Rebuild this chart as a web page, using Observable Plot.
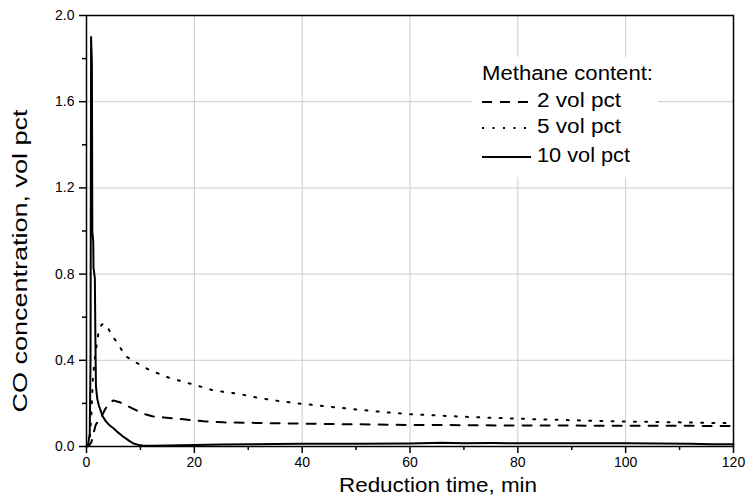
<!DOCTYPE html>
<html><head><meta charset="utf-8">
<script src="https://cdn.jsdelivr.net/npm/d3@7"></script>
<script src="https://cdn.jsdelivr.net/npm/@observablehq/plot@0.6"></script>
<style>
body{margin:0;background:#fff;font-family:"Liberation Sans",Arial,sans-serif}
#wrap{position:relative;width:748px;height:502px;background:#fff}
#legend{position:absolute;left:472px;top:57px;width:186px;height:120px;background:#fff}
</style></head><body><div id="wrap"><div id="legend"></div></div>
<script>
const legendTitle = "Methane content:";
const seriesNames = ["2 vol pct", "5 vol pct", "10 vol pct"];
const xLabel = "Reduction time, min";
const yLabel = "CO concentration, vol pct";

// 2 vol pct (dashed)
const t2 = [0, 0.5, 0.9, 1.2, 1.7, 2.2, 2.6, 3.0, 3.5, 4.0, 4.5, 5.0, 5.5, 6.2, 7.0, 8.5, 10.5, 12.2, 14.3, 18, 21.7, 25.4, 30, 35, 40, 50, 60, 70, 80, 90, 100, 110, 120];
const v2 = [0, 0.005, 0.02, 0.05, 0.1, 0.12, 0.13, 0.15, 0.175, 0.19, 0.205, 0.214, 0.21, 0.205, 0.195, 0.177, 0.153, 0.14, 0.135, 0.126, 0.117, 0.112, 0.11, 0.108, 0.106, 0.103, 0.1, 0.099, 0.097, 0.097, 0.096, 0.096, 0.095];
// 5 vol pct (dotted)
const t5 = [0, 0.4, 0.7, 0.9, 1.1, 1.2, 1.5, 2.0, 2.3, 2.8, 3.3, 4.0, 4.6, 6.0, 7.2, 9.2, 11.3, 13.2, 15.2, 19.5, 23.6, 28, 32, 36, 40, 45, 50, 55, 60, 70, 80, 90, 100, 110, 120];
const v5 = [0, 0.005, 0.06, 0.15, 0.27, 0.32, 0.4, 0.49, 0.54, 0.565, 0.57, 0.55, 0.52, 0.47, 0.42, 0.39, 0.36, 0.34, 0.32, 0.29, 0.26, 0.245, 0.225, 0.21, 0.198, 0.185, 0.172, 0.16, 0.15, 0.138, 0.129, 0.122, 0.116, 0.112, 0.108];
// 10 vol pct (solid)
const t10 = [0, 0.3, 0.6, 0.75, 0.85, 0.95, 1.0, 1.05, 1.08, 1.25, 1.3, 1.55, 1.65, 1.75, 2.0, 2.3, 3.0, 3.5, 4.2, 5.0, 6.0, 7.0, 8.0, 8.7, 9.5, 10.4, 12, 15, 20, 25, 30, 35, 40, 50, 60, 66, 70, 75, 80, 90, 100, 112, 116, 120];
const v10 = [0, 0.01, 0.06, 0.4, 1.9, 1.82, 1.78, 1.3, 1.0, 0.95, 0.83, 0.78, 0.5, 0.28, 0.22, 0.19, 0.14, 0.12, 0.1, 0.085, 0.062, 0.042, 0.025, 0.014, 0.008, 0.005, 0.004, 0.005, 0.007, 0.009, 0.01, 0.012, 0.013, 0.013, 0.014, 0.017, 0.015, 0.016, 0.015, 0.015, 0.015, 0.013, 0.01, 0.01];

const xTicks = [0, 20, 40, 60, 80, 100, 120];
const xMinor = [10, 30, 50, 70, 90, 110];
const xGrid = [20, 40, 60, 80, 100];
const yTicks = [0, 0.4, 0.8, 1.2, 1.6, 2.0];
const yMinor = [0.2, 0.6, 1.0, 1.4, 1.8];
const yGrid = [0.4, 0.8, 1.2, 1.6];

const dashes = ["9,9", "2,9.2", null];

const rows = [];
[[t2, v2], [t5, v5], [t10, v10]].forEach(([ts, vs], i) => ts.forEach((t, j) => rows.push({series: seriesNames[i], t, v: vs[j]})));

const lineMarks = seriesNames.map((s, i) => Plot.line(rows.filter(r => r.series === s), {
  x: "t", y: "v", stroke: "black", strokeWidth: 2, strokeDasharray: dashes[i], strokeLinejoin: "round"
}));

const chart = Plot.plot({
  width: 748, height: 502,
  marginLeft: 86, marginRight: 15, marginTop: 15, marginBottom: 56,
  x: {domain: [0, 120]},
  y: {domain: [0, 2]},
  style: {fontFamily: '"Liberation Sans", Arial, sans-serif', fontSize: "14px", color: "black", background: "white"},
  marks: [
    Plot.gridX(xGrid, {stroke: "#cccccc", strokeOpacity: 1, strokeWidth: 1}),
    Plot.gridY(yGrid, {stroke: "#cccccc", strokeOpacity: 1, strokeWidth: 1}),
    ...lineMarks,
    Plot.frame({stroke: "black", strokeWidth: 1.5}),
    Plot.axisX(xTicks, {tickSize: 7, tickPadding: 4, fontSize: 14, label: null, tickFormat: d => String(d), stroke: "black", strokeOpacity: 1, strokeWidth: 1.5}),
    Plot.axisX(xMinor, {tickSize: 4, label: null, tickFormat: () => "", stroke: "black", strokeOpacity: 1, strokeWidth: 1.5}),
    Plot.axisY(yTicks, {tickSize: 7, tickPadding: 5, fontSize: 14, label: null, tickFormat: d3.format(".1f"), stroke: "black", strokeOpacity: 1, strokeWidth: 1.5}),
    Plot.axisY(yMinor, {tickSize: 4, label: null, tickFormat: () => "", stroke: "black", strokeOpacity: 1, strokeWidth: 1.5})
  ]
});
const wrap = document.getElementById("wrap");
wrap.insertBefore(chart, wrap.firstChild);

const svg = d3.select(chart);
svg.append("text").text(xLabel)
  .attr("x", 438).attr("y", 487).attr("text-anchor", "middle").attr("dominant-baseline", "middle")
  .attr("font-size", 19.5).attr("textLength", 198).attr("lengthAdjust", "spacingAndGlyphs").attr("fill", "black");
svg.append("text").text(yLabel)
  .attr("transform", "translate(22,261) rotate(-90)").attr("text-anchor", "middle").attr("dominant-baseline", "middle")
  .attr("font-size", 20).attr("textLength", 303).attr("lengthAdjust", "spacingAndGlyphs").attr("fill", "black");

// Legend overlay
const lg = d3.select("#legend").append("svg").attr("width", 186).attr("height", 120)
  .style("font-family", '"Liberation Sans", Arial, sans-serif');
lg.append("text").text(legendTitle).attr("x", 10).attr("y", 18).attr("dominant-baseline", "middle")
  .attr("font-size", 20).attr("textLength", 171).attr("lengthAdjust", "spacingAndGlyphs");
const rowY = [45, 71, 100];
const legDash = ["10,8", "2,8.5", null];
const textLen = [84, 84, 93];
seriesNames.forEach((s, i) => {
  lg.append("line").attr("x1", 10).attr("x2", 59).attr("y1", rowY[i]).attr("y2", rowY[i])
    .attr("stroke", "black").attr("stroke-width", 2).attr("stroke-dasharray", legDash[i]);
  lg.append("text").text(s).attr("x", 65).attr("y", rowY[i]).attr("dominant-baseline", "middle")
    .attr("font-size", 20).attr("textLength", textLen[i]).attr("lengthAdjust", "spacingAndGlyphs");
});
</script></body></html>
